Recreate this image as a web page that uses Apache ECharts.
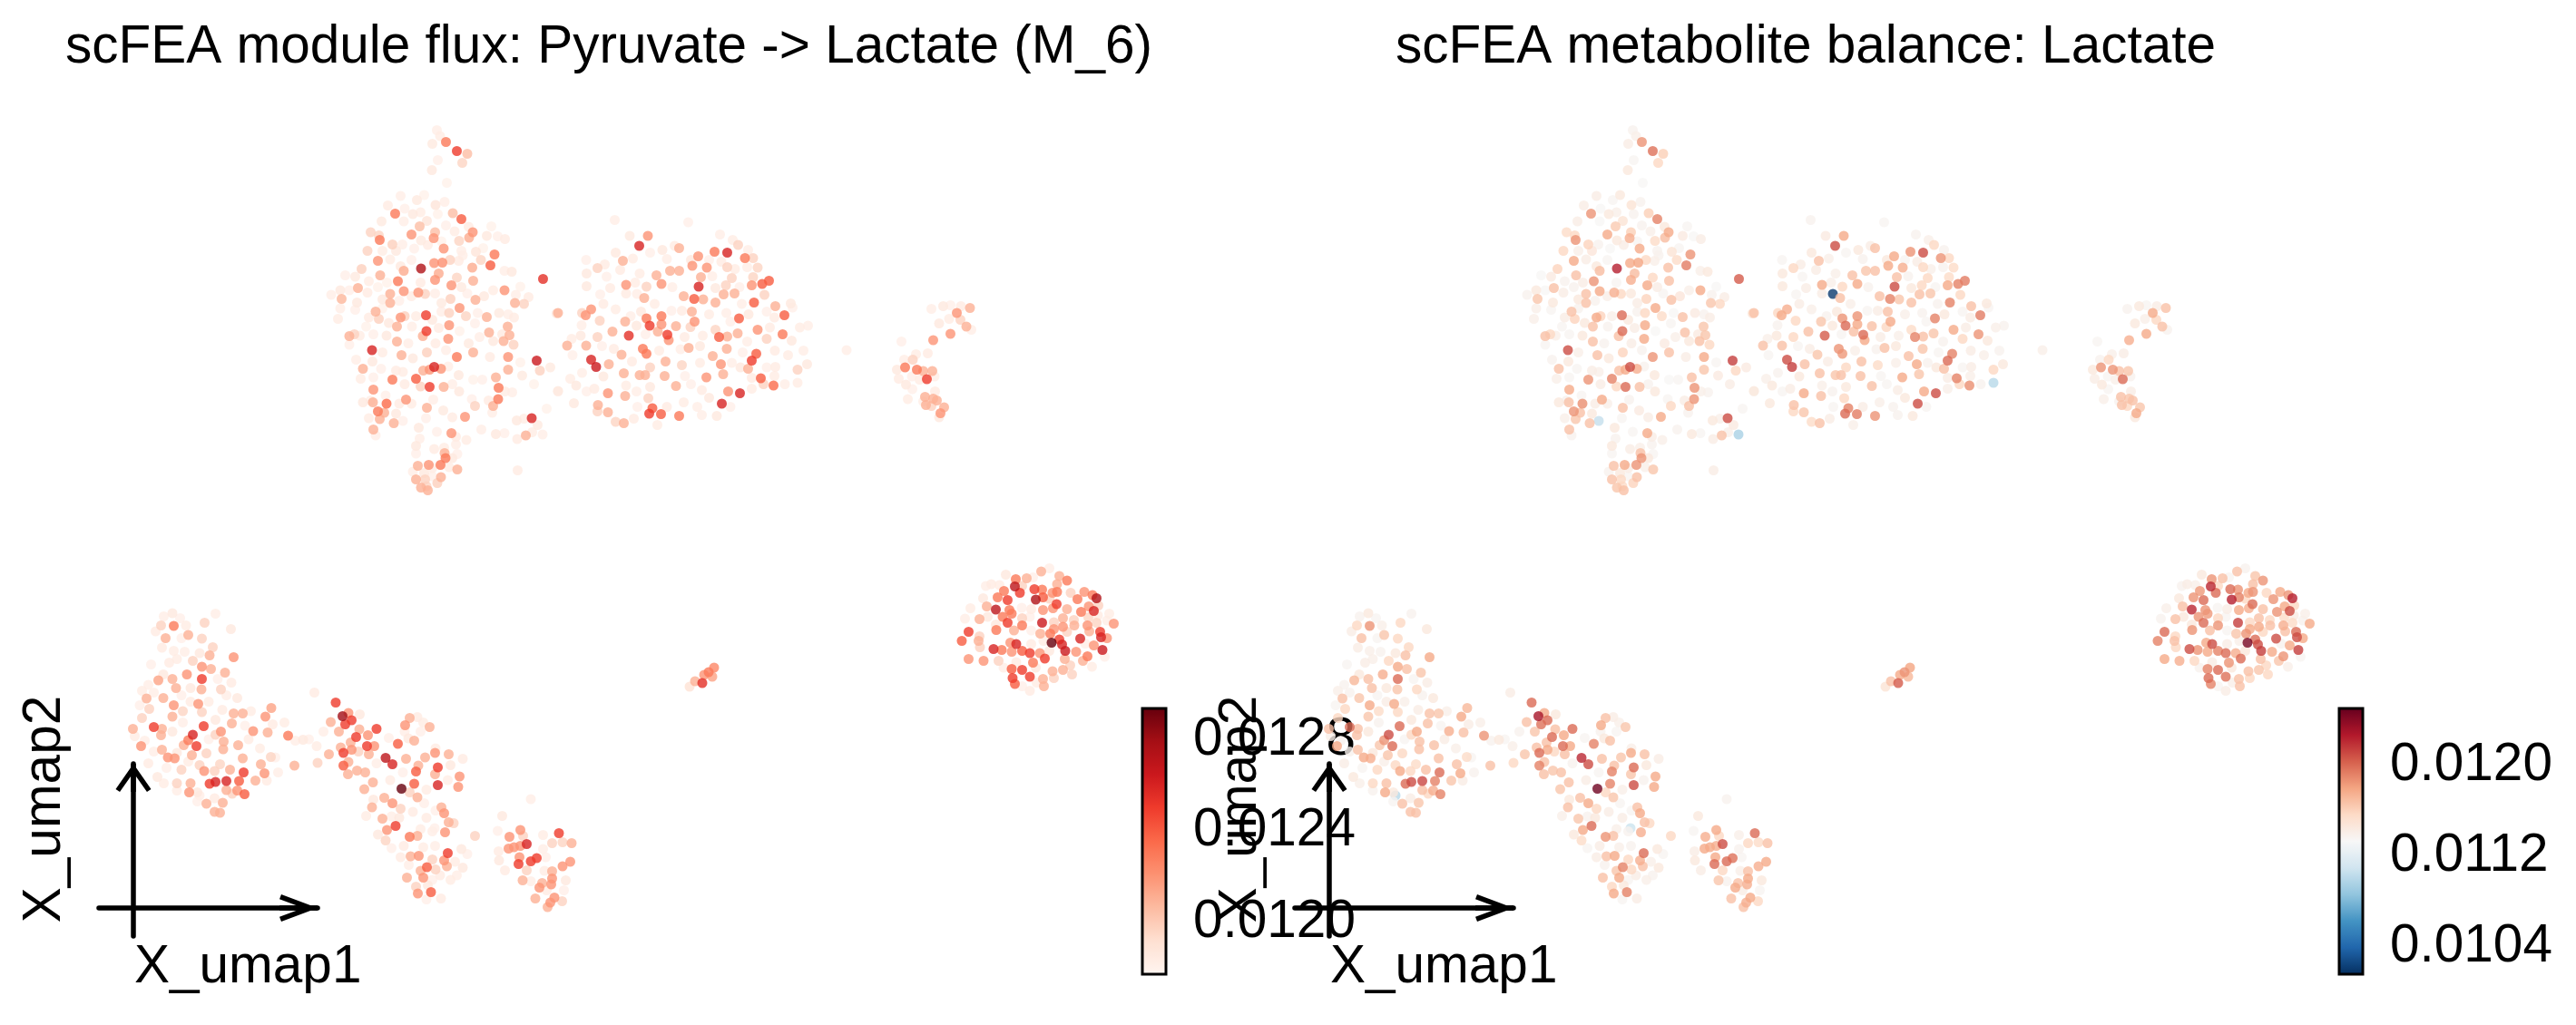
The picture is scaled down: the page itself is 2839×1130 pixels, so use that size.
<!DOCTYPE html>
<html lang="en">
<head>
<meta charset="UTF-8">
<title>scFEA lactate umap</title>
<script src="https://cdn.jsdelivr.net/npm/echarts@6/dist/echarts.min.js"></script>
<style>
  html, body { margin: 0; padding: 0; background: #fff; }
  #main { width: 2839px; height: 1130px; }
</style>
</head>
<body>
<div id="main"></div>
<script type="text/javascript">
// each cell: [X_umap1, X_umap2, module flux M_6, lactate balance]
var clusterA = [
[2.43,11.13,0.01182,0.01138],[2.33,10.83,0.01185,0.01142],[2.63,10.87,0.01230,0.01186],[2.87,10.67,0.01250,0.01198],
[3.10,10.61,0.01205,0.01162],[2.99,10.41,0.01196,0.01158],[2.45,10.47,0.01181,0.01136],[2.32,10.25,0.01186,0.01146],
[2.65,9.97,0.01180,0.01134],[2.50,11.00,0.01183,0.01140],[1.63,9.68,0.01182,0.01142],[1.99,9.59,0.01185,0.01136],
[2.15,9.70,0.01180,0.01146],[2.40,9.48,0.01188,0.01150],[2.60,9.55,0.01182,0.01138],[1.35,9.47,0.01184,0.01142],
[1.51,9.29,0.01230,0.01186],[1.72,9.40,0.01181,0.01134],[1.90,9.28,0.01186,0.01146],[2.07,9.32,0.01183,0.01140],
[2.45,9.28,0.01180,0.01138],[2.78,9.30,0.01205,0.01162],[2.97,9.17,0.01240,0.01192],[1.21,9.12,0.01185,0.01142],
[1.70,9.12,0.01182,0.01134],[2.21,9.13,0.01188,0.01150],[2.63,9.03,0.01181,0.01138],[2.05,9.01,0.01205,0.01164],
[3.13,9.00,0.01184,0.01146],[3.63,9.01,0.01180,0.01136],[0.97,8.88,0.01197,0.01156],[1.15,8.81,0.01196,0.01158],
[1.87,8.83,0.01220,0.01178],[2.39,8.88,0.01205,0.01162],[2.82,8.90,0.01183,0.01140],[3.22,8.88,0.01220,0.01178],
[3.53,8.80,0.01186,0.01144],[3.77,8.79,0.01181,0.01134],[3.93,8.73,0.01184,0.01142],[1.17,8.71,0.01230,0.01186],
[1.45,8.61,0.01198,0.01160],[1.67,8.61,0.01182,0.01138],[2.08,8.70,0.01185,0.01146],[2.36,8.75,0.01220,0.01176],
[2.53,8.68,0.01180,0.01136],[2.92,8.69,0.01196,0.01156],[3.14,8.76,0.01212,0.01170],[0.90,8.47,0.01197,0.01158],
[1.23,8.47,0.01183,0.01140],[1.53,8.47,0.01186,0.01148],[1.93,8.52,0.01181,0.01134],[2.23,8.60,0.01184,0.01142],
[2.58,8.52,0.01220,0.01178],[2.97,8.47,0.01182,0.01138],[3.29,8.45,0.01188,0.01150],[3.45,8.53,0.01180,0.01136],
[3.70,8.39,0.01230,0.01186],[1.13,8.25,0.01220,0.01178],[1.40,8.28,0.01183,0.01142],[1.63,8.13,0.01186,0.01146],
[1.70,8.03,0.01212,0.01170],[1.87,8.27,0.01181,0.01136],[2.08,8.08,0.01275,0.01225],[2.37,8.20,0.01220,0.01178],
[2.55,8.21,0.01222,0.01180],[2.72,8.27,0.01197,0.01158],[2.91,8.25,0.01184,0.01140],[3.00,8.37,0.01182,0.01138],
[3.40,8.27,0.01196,0.01156],[3.61,8.15,0.01240,0.01194],[3.21,8.10,0.01212,0.01168],[0.77,8.07,0.01198,0.01160],
[0.41,7.93,0.01181,0.01134],[0.63,7.90,0.01185,0.01144],[1.18,7.93,0.01210,0.01168],[1.57,7.80,0.01230,0.01186],
[2.47,7.97,0.01212,0.01170],[2.39,7.83,0.01220,0.01176],[2.87,7.88,0.01196,0.01158],[3.23,7.81,0.01210,0.01168],
[3.92,8.03,0.01182,0.01140],[4.08,8.01,0.01186,0.01146],[0.93,7.80,0.01183,0.01138],[1.33,7.77,0.01180,0.01142],
[2.07,7.77,0.01184,0.01136],[0.33,7.41,0.01208,0.01166],[0.10,7.50,0.01182,0.01138],[0.30,7.60,0.01186,0.01146],
[0.50,7.60,0.01181,0.01134],[0.69,7.65,0.01210,0.01168],[0.90,7.55,0.01184,0.01142],[1.13,7.67,0.01180,0.01138],
[1.40,7.52,0.01210,0.01168],[1.70,7.58,0.01220,0.01178],[1.87,7.47,0.01183,0.01140],[2.02,7.55,0.01220,0.01176],
[2.17,7.52,0.01197,0.01158],[2.39,7.53,0.01182,0.01146],[2.75,7.71,0.01220,0.01178],[2.73,7.41,0.01198,0.01160],
[2.97,7.67,0.01185,0.01142],[3.10,7.53,0.01181,0.01136],[3.28,7.39,0.01210,0.01168],[3.47,7.47,0.01186,0.01148],
[3.67,7.60,0.01183,0.01140],[3.92,7.60,0.01220,0.01178],[4.17,7.50,0.01182,0.01138],[4.27,7.68,0.01180,0.01134],
[4.45,7.45,0.01184,0.01142],[4.15,7.32,0.01210,0.01166],[4.35,7.30,0.01197,0.01158],[1.23,7.40,0.01186,0.01146],
[1.60,7.37,0.01181,0.01138],[2.53,7.32,0.01185,0.01142],[1.40,7.32,0.01210,0.01168],[0.30,7.20,0.01182,0.01140],
[0.67,7.33,0.01186,0.01146],[0.63,7.17,0.01181,0.01136],[1.08,7.13,0.01210,0.01168],[0.93,7.00,0.01184,0.01142],
[1.23,7.20,0.01180,0.01138],[1.63,7.00,0.01220,0.01178],[1.72,7.03,0.01198,0.01160],[1.97,7.03,0.01183,0.01140],
[2.19,7.05,0.01250,0.01200],[2.33,6.95,0.01186,0.01146],[2.53,7.13,0.01182,0.01138],[2.70,7.10,0.01197,0.01158],
[2.93,7.21,0.01220,0.01178],[3.07,7.03,0.01196,0.01156],[3.33,7.10,0.01181,0.01134],[3.53,7.01,0.01210,0.01168],
[3.80,7.10,0.01185,0.01144],[4.00,7.07,0.01182,0.01138],[4.13,7.00,0.01184,0.01142],[5.07,7.09,0.01188,0.01150],
[0.25,6.97,0.01183,0.01140],[0.87,6.80,0.01180,0.01136],[1.15,6.97,0.01198,0.01160],[1.37,6.88,0.01186,0.01146],
[1.55,6.80,0.01210,0.01168],[1.88,6.80,0.01182,0.01138],[2.70,6.83,0.01220,0.01178],[2.47,6.77,0.01184,0.01142],
[3.27,6.87,0.01181,0.01136],[3.58,6.67,0.01210,0.01168],[3.99,6.80,0.01210,0.01166],[3.87,6.63,0.01185,0.01144],
[0.50,6.59,0.01210,0.01168],[0.61,6.63,0.01197,0.01158],[0.73,6.60,0.01183,0.01140],[1.03,6.63,0.01181,0.01136],
[1.32,6.60,0.01186,0.01146],[1.55,6.47,0.01210,0.01168],[1.80,6.43,0.01182,0.01138],[2.12,6.59,0.01210,0.01168],
[2.20,6.70,0.01250,0.01200],[2.40,6.43,0.01184,0.01142],[2.68,6.53,0.01220,0.01178],[2.93,6.70,0.01180,0.01134],
[3.13,6.43,0.01185,0.01144],[3.37,6.57,0.01182,0.01140],[3.67,6.48,0.01186,0.01146],[3.90,6.48,0.01210,0.01168],
[4.03,6.61,0.01210,0.01166],[4.12,6.40,0.01197,0.01158],[0.50,6.40,0.01181,0.01136],[1.00,6.28,0.01260,0.01210],
[1.23,6.23,0.01183,0.01140],[1.65,6.17,0.01210,0.01168],[1.90,6.10,0.01186,0.01146],[2.21,6.23,0.01198,0.01160],
[2.63,6.28,0.01182,0.01138],[2.87,6.13,0.01230,0.01186],[3.23,6.23,0.01210,0.01168],[3.60,6.13,0.01184,0.01142],
[4.00,6.13,0.01220,0.01178],[4.27,6.01,0.01180,0.01136],[4.63,6.05,0.01265,0.01215],[4.70,5.83,0.01197,0.01158],
[4.93,5.90,0.01185,0.01144],[0.65,6.07,0.01182,0.01138],[0.80,5.87,0.01210,0.01168],[1.01,6.03,0.01186,0.01146],
[1.20,5.87,0.01181,0.01136],[1.53,5.83,0.01184,0.01142],[1.68,5.80,0.01183,0.01140],[1.97,5.65,0.01240,0.01192],
[2.13,5.83,0.01210,0.01168],[2.27,5.85,0.01220,0.01178],[2.37,5.91,0.01260,0.01210],[2.52,5.87,0.01220,0.01176],
[2.68,5.92,0.01182,0.01138],[2.91,5.73,0.01186,0.01146],[3.23,5.63,0.01180,0.01134],[3.73,5.68,0.01210,0.01168],
[4.00,5.85,0.01210,0.01166],[4.31,5.72,0.01185,0.01144],[0.75,5.65,0.01183,0.01140],[1.03,5.68,0.01181,0.01136],
[1.45,5.63,0.01230,0.01186],[1.72,5.53,0.01184,0.01142],[2.07,5.48,0.01197,0.01158],[2.27,5.47,0.01250,0.01200],
[2.58,5.47,0.01210,0.01168],[2.77,5.53,0.01182,0.01138],[2.92,5.37,0.01186,0.01146],[3.43,5.63,0.01181,0.01136],
[3.79,5.45,0.01230,0.01186],[3.93,5.37,0.01183,0.01140],[4.57,5.53,0.01180,0.01142],[5.10,5.38,0.01185,0.01146],
[1.03,5.41,0.01220,0.01178],[0.97,5.17,0.01182,0.01138],[0.80,5.13,0.01186,0.01146],[1.02,5.13,0.01210,0.01168],
[1.32,5.10,0.01235,0.01188],[1.30,5.28,0.01181,0.01136],[1.60,5.10,0.01184,0.01142],[1.75,5.19,0.01220,0.01178],
[1.87,5.10,0.01183,0.01140],[2.21,5.01,0.01210,0.01168],[2.35,5.19,0.01182,0.01138],[2.57,4.95,0.01185,0.01144],
[3.20,5.20,0.01181,0.01136],[3.27,5.05,0.01197,0.01158],[3.57,5.17,0.01184,0.01142],[3.67,5.05,0.01210,0.01168],
[3.78,5.20,0.01230,0.01186],[4.09,5.35,0.01182,0.01138],[1.13,4.93,0.01230,0.01186],[1.27,4.90,0.01210,0.01168],
[1.53,4.88,0.01186,0.01146],[0.93,4.78,0.01183,0.01140],[1.17,4.76,0.01210,0.01166],[1.48,4.67,0.01210,0.01168],
[2.19,4.78,0.01181,0.01136],[2.77,4.80,0.01184,0.01142],[3.05,4.81,0.01220,0.01178],[3.65,4.90,0.01182,0.01138],
[4.52,4.78,0.01260,0.01210],[4.19,4.73,0.01186,0.01146],[4.35,4.77,0.01183,0.01140],[4.85,4.99,0.01180,0.01136],
[4.65,4.63,0.01185,0.01144],[1.03,4.53,0.01210,0.01168],[1.08,4.40,0.01182,0.01138],[2.03,4.57,0.01186,0.01146],
[2.43,4.48,0.01181,0.01136],[2.75,4.45,0.01220,0.01178],[2.85,4.37,0.01184,0.01142],[3.08,4.30,0.01183,0.01140],
[3.41,4.53,0.01182,0.01138],[3.73,4.43,0.01186,0.01146],[3.92,4.45,0.01181,0.01136],[4.20,4.32,0.01184,0.01142],
[4.39,4.40,0.01210,0.01168],[4.53,4.47,0.01183,0.01140],[2.05,4.33,0.01182,0.01138],[1.97,4.17,0.01186,0.01146],
[1.97,4.00,0.01181,0.01136],[2.37,4.10,0.01184,0.01142],[2.59,4.13,0.01183,0.01140],[2.85,4.20,0.01182,0.01138],
[2.60,4.01,0.01210,0.01168],[2.62,3.90,0.01230,0.01186],[2.77,3.90,0.01186,0.01146],[2.88,3.99,0.01181,0.01136],
[2.01,3.73,0.01210,0.01168],[2.25,3.75,0.01220,0.01178],[2.51,3.75,0.01230,0.01186],[2.33,3.68,0.01184,0.01142],
[2.70,3.70,0.01183,0.01140],[2.88,3.65,0.01210,0.01166],[1.90,3.60,0.01182,0.01138],[2.15,3.57,0.01186,0.01146],
[1.97,3.43,0.01210,0.01168],[2.17,3.43,0.01197,0.01158],[2.33,3.50,0.01181,0.01136],[2.52,3.48,0.01210,0.01168],
[2.44,3.35,0.01198,0.01160],[2.08,3.25,0.01210,0.01166],[2.23,3.19,0.01210,0.01168],[2.20,3.28,0.01196,0.01156],
[4.21,3.63,0.01184,0.01142],[4.77,7.85,0.01255,0.01205],[4.76,4.42,0.01182,0.01095],[1.68,4.72,0.01181,0.01105]
];
var clusterB = [
[6.35,9.15,0.01182,0.01138],[7.97,9.10,0.01181,0.01136],[6.68,8.80,0.01185,0.01144],[7.08,8.80,0.01220,0.01178],
[6.89,8.58,0.01260,0.01210],[8.67,8.83,0.01182,0.01138],[7.77,8.53,0.01210,0.01168],[7.40,8.49,0.01186,0.01146],
[7.13,8.43,0.01181,0.01136],[7.67,8.58,0.01184,0.01142],[8.55,8.45,0.01230,0.01186],[8.83,8.43,0.01260,0.01210],
[9.07,8.60,0.01197,0.01158],[8.95,8.71,0.01183,0.01140],[8.19,8.35,0.01220,0.01178],[9.22,8.31,0.01230,0.01186],
[9.40,8.31,0.01197,0.01158],[9.29,8.49,0.01182,0.01138],[6.37,8.43,0.01186,0.01146],[5.72,8.27,0.01181,0.01136],
[5.97,8.09,0.01197,0.01158],[6.13,8.17,0.01184,0.01142],[6.53,8.25,0.01210,0.01168],[6.75,8.30,0.01183,0.01140],
[7.50,8.29,0.01182,0.01138],[8.03,8.27,0.01186,0.01146],[8.43,8.27,0.01181,0.01136],[8.70,8.23,0.01184,0.01142],
[8.06,8.14,0.01220,0.01178],[8.38,8.10,0.01220,0.01176],[8.83,8.11,0.01197,0.01158],[9.00,8.07,0.01183,0.01140],
[9.50,8.10,0.01196,0.01156],[9.27,8.11,0.01182,0.01138],[5.73,7.97,0.01186,0.01146],[6.17,7.90,0.01181,0.01136],
[6.47,8.05,0.01184,0.01142],[6.90,7.97,0.01183,0.01140],[7.27,7.93,0.01210,0.01168],[7.57,8.03,0.01210,0.01166],
[7.77,8.03,0.01210,0.01168],[8.25,7.89,0.01210,0.01168],[8.50,7.91,0.01182,0.01138],[8.93,7.87,0.01197,0.01158],
[9.40,7.89,0.01196,0.01156],[5.73,7.69,0.01186,0.01146],[6.03,7.51,0.01181,0.01136],[6.25,7.65,0.01184,0.01142],
[6.60,7.72,0.01220,0.01178],[6.80,7.77,0.01183,0.01140],[7.05,7.68,0.01197,0.01158],[7.38,7.74,0.01220,0.01178],
[7.62,7.67,0.01182,0.01138],[8.20,7.68,0.01260,0.01210],[8.57,7.65,0.01186,0.01146],[8.80,7.71,0.01197,0.01158],
[9.37,7.71,0.01220,0.01178],[9.60,7.74,0.01240,0.01192],[9.75,7.81,0.01240,0.01194],[9.10,7.67,0.01181,0.01136],
[6.60,7.53,0.01184,0.01142],[7.00,7.43,0.01210,0.01168],[7.23,7.30,0.01183,0.01140],[7.87,7.47,0.01210,0.01168],
[8.10,7.41,0.01240,0.01192],[8.30,7.40,0.01210,0.01166],[8.57,7.33,0.01210,0.01168],[8.75,7.51,0.01210,0.01168],
[8.99,7.53,0.01210,0.01166],[9.42,7.33,0.01240,0.01192],[9.65,7.50,0.01197,0.01158],[9.15,7.30,0.01182,0.01138],
[9.89,7.25,0.01210,0.01168],[10.23,7.31,0.01186,0.01146],[10.27,7.22,0.01181,0.01136],[5.10,7.10,0.01210,0.01168],
[5.63,7.10,0.01197,0.01158],[5.71,7.05,0.01220,0.01178],[5.83,7.18,0.01220,0.01176],[6.10,7.30,0.01184,0.01142],
[6.37,7.18,0.01183,0.01140],[6.70,7.03,0.01182,0.01138],[6.93,7.13,0.01186,0.01146],[7.05,6.98,0.01230,0.01186],
[7.38,7.03,0.01230,0.01186],[7.60,7.15,0.01181,0.01136],[7.83,7.15,0.01184,0.01142],[8.05,7.13,0.01210,0.01168],
[8.43,7.07,0.01183,0.01140],[8.81,7.10,0.01182,0.01138],[9.09,6.98,0.01240,0.01192],[9.30,7.07,0.01186,0.01146],
[9.70,7.13,0.01181,0.01136],[10.09,7.05,0.01240,0.01194],[9.87,7.00,0.01184,0.01142],[5.30,6.38,0.01210,0.01168],
[5.40,6.53,0.01183,0.01140],[5.62,6.83,0.01182,0.01138],[6.02,6.93,0.01197,0.01158],[6.30,6.69,0.01210,0.01168],
[6.58,6.91,0.01210,0.01166],[6.83,6.82,0.01186,0.01146],[7.12,6.82,0.01250,0.01200],[7.38,6.85,0.01220,0.01178],
[7.70,6.81,0.01210,0.01168],[8.02,6.79,0.01197,0.01158],[8.11,6.91,0.01220,0.01178],[8.57,6.73,0.01196,0.01156],
[8.90,6.91,0.01181,0.01136],[9.50,6.73,0.01220,0.01178],[9.77,6.78,0.01184,0.01142],[10.43,6.78,0.01183,0.01140],
[10.61,6.82,0.01182,0.01138],[5.60,6.60,0.01186,0.01146],[5.97,6.57,0.01197,0.01158],[6.66,6.60,0.01255,0.01205],
[7.03,6.63,0.01181,0.01136],[7.30,6.69,0.01210,0.01168],[7.51,6.62,0.01250,0.01200],[7.54,6.50,0.01220,0.01178],
[7.89,6.57,0.01184,0.01142],[8.29,6.60,0.01183,0.01140],[8.65,6.57,0.01240,0.01192],[8.83,6.58,0.01210,0.01168],
[9.06,6.65,0.01210,0.01166],[9.27,6.47,0.01182,0.01138],[10.05,6.63,0.01230,0.01186],[9.70,6.53,0.01197,0.01158],
[10.25,6.49,0.01186,0.01146],[5.72,6.38,0.01210,0.01168],[6.07,6.37,0.01181,0.01136],[6.33,6.31,0.01184,0.01142],
[6.97,6.31,0.01230,0.01186],[7.05,6.20,0.01230,0.01184],[7.33,6.27,0.01183,0.01140],[7.80,6.30,0.01182,0.01138],
[7.98,6.33,0.01210,0.01168],[8.23,6.37,0.01186,0.01146],[8.51,6.15,0.01210,0.01168],[8.82,6.31,0.01210,0.01166],
[9.17,6.23,0.01181,0.01136],[9.47,6.20,0.01240,0.01192],[9.37,6.05,0.01250,0.01200],[9.88,6.27,0.01184,0.01142],
[10.17,6.17,0.01183,0.01140],[10.51,6.27,0.01182,0.01138],[10.59,5.97,0.01186,0.01146],[5.42,6.17,0.01181,0.01136],
[5.83,6.07,0.01260,0.01210],[5.94,5.91,0.01265,0.01215],[6.22,5.97,0.01210,0.01168],[6.50,6.18,0.01210,0.01166],
[6.73,6.03,0.01184,0.01142],[7.13,5.90,0.01197,0.01158],[7.47,6.03,0.01210,0.01168],[7.83,5.95,0.01196,0.01156],
[8.23,6.00,0.01183,0.01140],[8.69,5.97,0.01220,0.01178],[8.93,6.00,0.01182,0.01138],[9.12,5.90,0.01186,0.01146],
[9.29,5.87,0.01210,0.01168],[9.70,5.90,0.01181,0.01136],[9.89,5.91,0.01184,0.01142],[10.38,5.85,0.01197,0.01158],
[5.37,5.65,0.01183,0.01140],[5.63,5.78,0.01182,0.01138],[6.10,5.70,0.01186,0.01146],[6.55,5.77,0.01210,0.01168],
[6.90,5.73,0.01210,0.01166],[7.02,5.73,0.01210,0.01168],[7.45,5.71,0.01210,0.01168],[7.90,5.71,0.01181,0.01136],
[8.37,5.68,0.01220,0.01178],[8.74,5.75,0.01210,0.01166],[9.37,5.67,0.01184,0.01142],[9.57,5.66,0.01240,0.01192],
[9.87,5.71,0.01183,0.01140],[5.10,5.37,0.01182,0.01138],[5.50,5.50,0.01186,0.01146],[5.73,5.37,0.01181,0.01136],
[5.90,5.43,0.01184,0.01142],[6.20,5.33,0.01220,0.01178],[6.60,5.50,0.01183,0.01140],[6.83,5.37,0.01182,0.01138],
[7.13,5.47,0.01186,0.01146],[7.70,5.49,0.01210,0.01168],[8.03,5.53,0.01181,0.01136],[8.27,5.40,0.01184,0.01142],
[8.85,5.37,0.01220,0.01178],[9.11,5.33,0.01260,0.01210],[9.37,5.43,0.01183,0.01140],[9.63,5.53,0.01197,0.01158],
[9.85,5.50,0.01235,0.01188],[10.10,5.53,0.01182,0.01138],[5.45,5.11,0.01186,0.01146],[5.98,5.07,0.01210,0.01168],
[6.20,4.91,0.01210,0.01166],[6.58,5.27,0.01210,0.01168],[6.85,5.03,0.01181,0.01136],[7.09,5.22,0.01197,0.01158],
[7.18,5.00,0.01240,0.01192],[7.11,4.88,0.01250,0.01200],[7.37,4.87,0.01240,0.01194],[7.50,5.03,0.01184,0.01142],
[7.87,5.13,0.01183,0.01140],[8.17,5.03,0.01182,0.01138],[8.43,5.23,0.01186,0.01146],[8.71,5.10,0.01260,0.01210],
[8.90,5.03,0.01181,0.01136],[7.77,4.83,0.01230,0.01186],[6.55,4.67,0.01210,0.01168],[6.77,4.77,0.01184,0.01142],
[7.29,4.63,0.01183,0.01140],[8.27,4.85,0.01182,0.01138],[8.60,4.83,0.01186,0.01146],[5.97,4.93,0.01197,0.01158],
[6.37,4.70,0.01196,0.01156],[6.84,7.52,0.01182,0.01020],[10.38,5.56,0.01183,0.01100],[11.46,6.28,0.01182,0.01140]
];
var clusterC = [
[13.33,7.19,0.01182,0.01138],[13.59,7.25,0.01186,0.01146],[13.75,7.27,0.01181,0.01136],[13.98,7.25,0.01184,0.01142],
[14.18,7.21,0.01210,0.01168],[13.89,7.10,0.01220,0.01178],[13.72,6.97,0.01183,0.01140],[13.97,6.95,0.01197,0.01158],
[14.10,6.80,0.01210,0.01168],[14.21,6.73,0.01182,0.01138],[13.50,6.87,0.01186,0.01146],[13.75,6.64,0.01220,0.01178],
[13.37,6.50,0.01220,0.01176],[12.67,6.47,0.01181,0.01136],[13.25,6.21,0.01184,0.01142],[12.99,6.19,0.01183,0.01140],
[12.92,6.07,0.01197,0.01158],[12.73,6.07,0.01182,0.01138],[12.75,5.90,0.01230,0.01186],[12.57,5.85,0.01186,0.01146],
[13.01,5.85,0.01230,0.01186],[13.15,5.82,0.01210,0.01168],[13.35,5.82,0.01210,0.01166],[13.23,5.64,0.01250,0.01200],
[12.90,5.70,0.01181,0.01136],[12.61,5.65,0.01184,0.01142],[13.07,5.63,0.01183,0.01140],[13.40,5.70,0.01182,0.01138],
[12.77,5.52,0.01186,0.01146],[12.91,5.42,0.01181,0.01136],[13.41,5.37,0.01184,0.01142],[13.19,5.25,0.01210,0.01168],
[13.37,5.21,0.01210,0.01166],[13.45,5.17,0.01210,0.01168],[12.81,5.20,0.01183,0.01140],[13.15,5.15,0.01182,0.01138],
[13.21,5.07,0.01210,0.01168],[13.33,5.05,0.01197,0.01158],[13.61,5.02,0.01210,0.01166],[13.53,4.89,0.01220,0.01178],
[13.50,4.80,0.01186,0.01146]
];
var clusterH = [
[15.93,1.47,0.01182,0.01138],[15.75,1.40,0.01210,0.01168],[14.97,1.33,0.01186,0.01146],[15.43,1.25,0.01210,0.01168],
[15.57,1.27,0.01181,0.01136],[16.15,1.30,0.01210,0.01166],[16.32,1.20,0.01230,0.01186],[15.19,1.23,0.01230,0.01186],
[15.17,1.07,0.01270,0.01222],[14.65,1.12,0.01184,0.01142],[14.83,1.10,0.01183,0.01140],[14.53,1.08,0.01182,0.01138],
[15.33,1.08,0.01197,0.01158],[16.10,1.12,0.01210,0.01168],[15.60,1.01,0.01250,0.01200],[15.77,1.00,0.01230,0.01186],
[14.93,0.97,0.01230,0.01184],[15.28,0.93,0.01250,0.01200],[16.00,0.93,0.01220,0.01178],[16.10,0.95,0.01230,0.01186],
[16.40,0.93,0.01197,0.01158],[16.70,0.95,0.01220,0.01178],[16.97,0.81,0.01275,0.01225],[16.88,0.88,0.01230,0.01186],
[14.47,0.81,0.01186,0.01146],[14.79,0.83,0.01230,0.01186],[15.01,0.77,0.01250,0.01200],[15.63,0.78,0.01275,0.01225],
[15.79,0.83,0.01240,0.01192],[15.93,0.80,0.01197,0.01158],[16.09,0.68,0.01250,0.01200],[16.55,0.79,0.01230,0.01186],
[16.80,0.63,0.01220,0.01178],[17.01,0.65,0.01197,0.01158],[14.55,0.63,0.01210,0.01168],[14.75,0.56,0.01270,0.01222],
[15.05,0.55,0.01230,0.01186],[15.32,0.60,0.01181,0.01136],[15.53,0.57,0.01184,0.01142],[15.79,0.55,0.01220,0.01178],
[16.01,0.59,0.01220,0.01176],[16.32,0.57,0.01210,0.01168],[16.63,0.51,0.01230,0.01186],[16.91,0.53,0.01260,0.01210],
[14.19,0.59,0.01183,0.01140],[14.07,0.36,0.01182,0.01138],[14.39,0.35,0.01210,0.01168],[14.57,0.40,0.01186,0.01146],
[14.90,0.40,0.01230,0.01186],[15.10,0.47,0.01230,0.01184],[15.33,0.37,0.01197,0.01158],[15.50,0.40,0.01181,0.01136],
[16.23,0.37,0.01210,0.01168],[16.47,0.33,0.01197,0.01158],[16.79,0.39,0.01196,0.01156],[17.00,0.43,0.01184,0.01142],
[17.25,0.47,0.01183,0.01140],[17.20,0.32,0.01182,0.01138],[17.35,0.25,0.01220,0.01178],[14.75,0.23,0.01186,0.01146],
[15.01,0.27,0.01250,0.01200],[15.33,0.21,0.01230,0.01186],[15.77,0.27,0.01265,0.01215],[16.03,0.28,0.01197,0.01158],
[16.23,0.18,0.01220,0.01178],[16.48,0.21,0.01210,0.01168],[16.77,0.21,0.01220,0.01176],[16.97,0.27,0.01196,0.01156],
[14.15,0.07,0.01250,0.01200],[14.00,-0.13,0.01240,0.01192],[14.39,-0.03,0.01197,0.01158],[14.76,0.11,0.01230,0.01186],
[15.15,0.10,0.01210,0.01168],[15.53,0.10,0.01181,0.01136],[15.73,0.03,0.01210,0.01166],[15.95,0.03,0.01230,0.01186],
[16.03,0.13,0.01220,0.01178],[16.32,0.07,0.01197,0.01158],[16.81,0.08,0.01210,0.01168],[17.05,0.07,0.01250,0.01200],
[17.20,-0.07,0.01220,0.01178],[17.07,-0.05,0.01260,0.01210],[14.37,-0.13,0.01210,0.01168],[15.07,-0.17,0.01220,0.01178],
[15.20,-0.20,0.01260,0.01210],[15.53,-0.20,0.01184,0.01142],[15.80,-0.13,0.01183,0.01140],[15.98,-0.17,0.01294,0.01245],
[16.15,-0.10,0.01250,0.01200],[16.21,-0.21,0.01260,0.01210],[16.28,-0.35,0.01265,0.01215],[16.61,-0.08,0.01260,0.01210],
[16.72,-0.19,0.01182,0.01138],[16.91,-0.23,0.01220,0.01178],[17.10,-0.33,0.01265,0.01215],[14.40,-0.27,0.01197,0.01158],
[14.70,-0.31,0.01260,0.01210],[14.88,-0.33,0.01230,0.01186],[15.10,-0.37,0.01220,0.01178],[15.33,-0.35,0.01240,0.01192],
[15.50,-0.40,0.01250,0.01200],[15.72,-0.40,0.01220,0.01176],[15.93,-0.35,0.01186,0.01146],[16.52,-0.37,0.01220,0.01178],
[16.77,-0.47,0.01230,0.01186],[17.15,-0.48,0.01181,0.01136],[14.15,-0.53,0.01220,0.01178],[14.48,-0.57,0.01220,0.01176],
[14.81,-0.57,0.01197,0.01158],[15.20,-0.60,0.01184,0.01142],[15.57,-0.61,0.01230,0.01186],[15.83,-0.52,0.01250,0.01200],
[16.27,-0.53,0.01210,0.01168],[16.39,-0.67,0.01197,0.01158],[16.67,-0.57,0.01210,0.01166],[16.87,-0.70,0.01183,0.01140],
[14.92,-0.72,0.01182,0.01138],[15.10,-0.75,0.01240,0.01192],[15.33,-0.77,0.01250,0.01200],[15.63,-0.72,0.01186,0.01146],
[16.00,-0.80,0.01210,0.01168],[16.23,-0.77,0.01210,0.01166],[16.43,-0.87,0.01197,0.01158],[15.12,-0.95,0.01250,0.01200],
[15.50,-0.92,0.01250,0.01198],[15.79,-0.97,0.01210,0.01168],[16.03,-0.95,0.01197,0.01158],[15.17,-1.08,0.01240,0.01192],
[15.33,-1.13,0.01181,0.01136],[15.50,-1.23,0.01184,0.01142],[15.81,-1.13,0.01210,0.01168],[15.65,-1.05,0.01183,0.01140]
];
var clusterD = [
[-3.59,0.41,0.01182,0.01138],[-3.40,0.48,0.01186,0.01146],[-3.23,0.37,0.01181,0.01136],[-3.65,0.21,0.01197,0.01158],
[-3.37,0.20,0.01230,0.01186],[-3.77,0.08,0.01184,0.01142],[-3.10,0.21,0.01183,0.01140],[-2.69,0.27,0.01197,0.01158],
[-2.45,0.47,0.01182,0.01138],[-2.11,0.13,0.01186,0.01146],[-3.55,-0.07,0.01210,0.01168],[-3.05,0.00,0.01210,0.01166],
[-3.20,-0.07,0.01181,0.01136],[-2.75,-0.08,0.01197,0.01158],[-3.63,-0.28,0.01184,0.01142],[-3.37,-0.35,0.01183,0.01140],
[-3.13,-0.37,0.01182,0.01138],[-2.80,-0.40,0.01186,0.01146],[-2.51,-0.27,0.01197,0.01158],[-2.58,-0.45,0.01210,0.01168],
[-2.05,-0.49,0.01220,0.01178],[-3.87,-0.65,0.01181,0.01136],[-3.47,-0.61,0.01184,0.01142],[-3.30,-0.53,0.01183,0.01140],
[-2.95,-0.57,0.01197,0.01158],[-2.75,-0.70,0.01220,0.01178],[-2.55,-0.75,0.01210,0.01168],[-2.24,-0.83,0.01210,0.01166],
[-3.08,-0.87,0.01220,0.01176],[-2.75,-0.97,0.01250,0.01200],[-3.71,-1.00,0.01215,0.01172],[-3.40,-0.97,0.01210,0.01168],
[-3.93,-1.10,0.01182,0.01138],[-3.60,-0.87,0.01186,0.01146],[-2.40,-0.97,0.01181,0.01136],[-2.10,-1.05,0.01184,0.01142],
[-4.07,-1.23,0.01183,0.01140],[-3.81,-1.27,0.01182,0.01138],[-3.32,-1.17,0.01210,0.01168],[-3.00,-1.17,0.01186,0.01146],
[-2.76,-1.20,0.01210,0.01166],[-2.33,-1.20,0.01197,0.01158],[-3.97,-1.40,0.01210,0.01168],[-3.60,-1.39,0.01210,0.01166],
[-3.20,-1.33,0.01181,0.01136],[-3.00,-1.47,0.01184,0.01142],[-2.83,-1.52,0.01220,0.01178],[-2.60,-1.47,0.01183,0.01140],
[-2.21,-1.33,0.01182,0.01138],[-1.97,-1.39,0.01186,0.01146],[-4.12,-1.55,0.01181,0.01136],[-3.91,-1.63,0.01197,0.01158],
[-3.37,-1.55,0.01220,0.01178],[-3.17,-1.68,0.01196,0.01156],[-2.75,-1.70,0.01197,0.01158],[-2.30,-1.65,0.01184,0.01142],
[-2.05,-1.73,0.01210,0.01168],[-1.85,-1.73,0.01210,0.01166],[-1.35,-1.80,0.01220,0.01178],[-1.22,-1.61,0.01215,0.01172],
[-1.67,-1.68,0.01183,0.01140],[-4.27,-2.07,0.01210,0.01168],[-4.07,-1.83,0.01197,0.01158],[-3.81,-2.03,0.01250,0.01200],
[-3.63,-2.07,0.01210,0.01168],[-3.40,-1.80,0.01210,0.01166],[-3.17,-1.93,0.01182,0.01138],[-2.71,-2.01,0.01250,0.01200],
[-2.45,-1.87,0.01186,0.01146],[-2.33,-2.13,0.01220,0.01178],[-2.09,-1.95,0.01210,0.01168],[-1.80,-2.00,0.01181,0.01136],
[-1.62,-2.12,0.01220,0.01176],[-1.30,-2.15,0.01210,0.01168],[-1.19,-1.97,0.01184,0.01142],[-4.23,-2.23,0.01183,0.01140],
[-4.01,-2.33,0.01182,0.01138],[-3.65,-2.21,0.01210,0.01168],[-3.40,-2.13,0.01186,0.01146],[-2.95,-2.20,0.01260,0.01210],
[-3.05,-2.32,0.01230,0.01186],[-2.87,-2.45,0.01250,0.01200],[-3.15,-2.43,0.01210,0.01166],[-2.60,-2.30,0.01181,0.01136],
[-2.45,-2.20,0.01197,0.01158],[-2.27,-2.35,0.01210,0.01168],[-1.95,-2.43,0.01210,0.01168],[-1.72,-2.30,0.01184,0.01142],
[-1.47,-2.50,0.01183,0.01140],[-4.09,-2.45,0.01220,0.01178],[-3.81,-2.57,0.01182,0.01138],[-3.63,-2.53,0.01210,0.01168],
[-3.30,-2.60,0.01186,0.01146],[-2.97,-2.65,0.01210,0.01166],[-2.65,-2.61,0.01197,0.01158],[-2.28,-2.52,0.01210,0.01168],
[-1.85,-2.72,0.01210,0.01168],[-1.23,-2.69,0.01196,0.01156],[-1.13,-2.70,0.01181,0.01136],[-3.93,-2.83,0.01184,0.01142],
[-3.50,-2.70,0.01220,0.01178],[-3.35,-2.72,0.01220,0.01176],[-3.05,-2.79,0.01183,0.01140],[-2.80,-2.87,0.01197,0.01158],
[-2.35,-2.85,0.01196,0.01156],[-1.45,-2.85,0.01210,0.01168],[-1.07,-3.03,0.01182,0.01138],[-3.73,-3.13,0.01186,0.01146],
[-3.53,-2.93,0.01181,0.01136],[-3.20,-2.97,0.01197,0.01158],[-2.70,-3.00,0.01220,0.01178],[-2.47,-3.00,0.01197,0.01158],
[-2.13,-2.97,0.01210,0.01168],[-1.83,-3.03,0.01250,0.01200],[-1.57,-3.21,0.01210,0.01166],[-1.37,-3.05,0.01220,0.01178],
[-1.32,-3.21,0.01184,0.01142],[-3.59,-3.27,0.01183,0.01140],[-3.30,-3.27,0.01197,0.01158],[-3.00,-3.27,0.01210,0.01168],
[-2.58,-3.28,0.01250,0.01200],[-2.45,-3.24,0.01260,0.01210],[-2.21,-3.22,0.01260,0.01212],[-1.93,-3.22,0.01240,0.01192],
[-3.30,-3.43,0.01182,0.01138],[-3.03,-3.47,0.01220,0.01178],[-2.85,-3.47,0.01186,0.01146],[-2.21,-3.42,0.01210,0.01168],
[-1.97,-3.43,0.01220,0.01176],[-1.81,-3.51,0.01240,0.01192],[-2.08,-3.50,0.01197,0.01158],[-2.85,-3.67,0.01181,0.01136],
[-2.65,-3.72,0.01210,0.01168],[-2.47,-3.60,0.01184,0.01142],[-2.29,-3.70,0.01210,0.01166],[-2.47,-3.90,0.01210,0.01168],
[-2.35,-3.92,0.01210,0.01168],[-0.93,-1.93,0.01183,0.01140],[-0.85,-2.22,0.01230,0.01186],[-0.69,-2.33,0.01182,0.01138],
[-0.52,-2.31,0.01186,0.01146],[-0.39,-2.30,0.01181,0.01136],[-0.71,-2.88,0.01210,0.01168],[-0.20,-2.82,0.01197,0.01158],
[-0.27,-1.27,0.01184,0.01142],[-0.22,-2.45,0.01183,0.01140],[-2.80,-3.54,0.01182,0.01100]
];
var clusterE = [
[0.20,-1.49,0.01250,0.01200],[0.35,-1.79,0.01280,0.01230],[0.48,-1.72,0.01220,0.01178],[0.55,-1.88,0.01250,0.01200],
[0.41,-1.97,0.01250,0.01198],[0.09,-1.92,0.01210,0.01168],[-0.07,-2.13,0.01182,0.01138],[0.27,-2.13,0.01210,0.01166],
[0.73,-1.75,0.01186,0.01146],[0.72,-2.08,0.01210,0.01168],[1.10,-2.07,0.01250,0.01200],[0.91,-2.21,0.01220,0.01178],
[0.65,-2.25,0.01250,0.01200],[0.53,-2.37,0.01210,0.01168],[1.37,-2.27,0.01181,0.01136],[1.73,-1.99,0.01220,0.01178],
[1.83,-1.83,0.01210,0.01168],[2.00,-1.81,0.01184,0.01142],[2.13,-1.93,0.01183,0.01140],[2.27,-2.03,0.01210,0.01166],
[1.72,-2.13,0.01182,0.01138],[1.93,-2.33,0.01210,0.01168],[1.80,-2.28,0.01186,0.01146],[2.07,-2.13,0.01181,0.01136],
[0.89,-2.45,0.01250,0.01200],[1.05,-2.45,0.01220,0.01178],[1.57,-2.40,0.01240,0.01192],[0.31,-2.48,0.01210,0.01168],
[0.05,-2.63,0.01210,0.01166],[0.37,-2.60,0.01250,0.01200],[0.55,-2.53,0.01220,0.01178],[0.70,-2.57,0.01197,0.01158],
[0.93,-2.63,0.01210,0.01168],[1.30,-2.71,0.01270,0.01222],[1.45,-2.85,0.01260,0.01210],[1.75,-2.73,0.01210,0.01168],
[2.17,-2.70,0.01210,0.01166],[2.39,-2.60,0.01220,0.01178],[2.69,-2.63,0.01210,0.01168],[3.00,-2.73,0.01184,0.01142],
[2.40,-2.50,0.01183,0.01140],[0.37,-2.88,0.01240,0.01192],[0.48,-2.80,0.01210,0.01168],[0.67,-2.99,0.01210,0.01166],
[0.85,-3.03,0.01210,0.01168],[1.10,-2.83,0.01182,0.01138],[2.02,-2.88,0.01210,0.01168],[2.45,-2.92,0.01250,0.01200],
[2.39,-3.07,0.01210,0.01166],[2.73,-2.87,0.01186,0.01146],[2.93,-3.12,0.01220,0.01178],[1.97,-3.01,0.01240,0.01192],
[1.68,-3.03,0.01181,0.01136],[0.47,-3.07,0.01210,0.01168],[1.02,-3.25,0.01210,0.01168],[0.83,-3.40,0.01210,0.01166],
[1.40,-3.20,0.01184,0.01142],[1.65,-3.39,0.01294,0.01248],[1.93,-3.28,0.01240,0.01192],[2.45,-3.31,0.01260,0.01210],
[2.90,-3.35,0.01220,0.01178],[2.20,-3.41,0.01183,0.01140],[2.67,-3.20,0.01182,0.01138],[1.27,-3.59,0.01210,0.01168],
[2.00,-3.58,0.01210,0.01166],[1.83,-3.47,0.01197,0.01158],[1.03,-3.63,0.01186,0.01146],[1.45,-3.71,0.01220,0.01178],
[1.63,-3.83,0.01197,0.01158],[1.00,-3.80,0.01210,0.01168],[2.15,-3.71,0.01181,0.01136],[1.90,-3.90,0.01184,0.01142],
[2.53,-3.80,0.01210,0.01168],[2.59,-3.93,0.01220,0.01178],[0.87,-3.99,0.01183,0.01140],[1.23,-4.05,0.01210,0.01166],
[1.43,-4.00,0.01182,0.01138],[1.60,-4.03,0.01186,0.01146],[2.40,-3.87,0.01181,0.01136],[2.20,-4.03,0.01184,0.01142],
[2.69,-4.13,0.01210,0.01168],[2.80,-4.15,0.01197,0.01158],[1.33,-4.30,0.01220,0.01178],[1.52,-4.21,0.01250,0.01200],
[2.07,-4.28,0.01183,0.01140],[2.33,-4.33,0.01182,0.01138],[2.61,-4.35,0.01220,0.01176],[1.13,-4.40,0.01186,0.01146],
[2.00,-4.43,0.01210,0.01168],[1.83,-4.45,0.01230,0.01186],[3.27,-4.43,0.01197,0.01158],[1.30,-4.53,0.01196,0.01156],
[1.43,-4.70,0.01181,0.01136],[1.70,-4.65,0.01184,0.01142],[2.13,-4.68,0.01183,0.01140],[2.39,-4.65,0.01182,0.01138],
[2.67,-4.81,0.01250,0.01200],[2.97,-4.72,0.01186,0.01146],[3.10,-4.83,0.01181,0.01136],[1.63,-4.90,0.01184,0.01142],
[1.85,-4.88,0.01210,0.01168],[2.03,-4.87,0.01220,0.01178],[2.33,-4.95,0.01197,0.01158],[2.59,-4.97,0.01220,0.01176],
[2.83,-5.00,0.01183,0.01140],[1.81,-5.07,0.01182,0.01138],[2.21,-5.12,0.01240,0.01192],[2.40,-5.17,0.01197,0.01158],
[2.65,-5.10,0.01210,0.01168],[3.00,-5.13,0.01186,0.01146],[2.07,-5.20,0.01210,0.01166],[1.77,-5.35,0.01210,0.01168],
[2.13,-5.35,0.01220,0.01178],[2.33,-5.40,0.01181,0.01136],[2.50,-5.30,0.01184,0.01142],[2.73,-5.40,0.01183,0.01140],
[2.87,-5.30,0.01182,0.01138],[1.97,-5.55,0.01197,0.01158],[2.23,-5.52,0.01186,0.01146],[2.01,-5.70,0.01220,0.01178],
[2.30,-5.67,0.01240,0.01192],[2.20,-5.83,0.01181,0.01136],[2.52,-5.81,0.01184,0.01142],[2.38,-4.26,0.01181,0.01108]
];
var clusterF = [
[4.50,-3.62,0.01182,0.01138],[3.87,-3.99,0.01186,0.01146],[3.77,-4.32,0.01181,0.01136],[4.27,-4.30,0.01220,0.01178],
[4.03,-4.45,0.01220,0.01176],[4.33,-4.43,0.01197,0.01158],[4.41,-4.61,0.01260,0.01210],[4.01,-4.71,0.01220,0.01178],
[4.13,-4.68,0.01220,0.01178],[4.27,-4.65,0.01220,0.01176],[3.79,-4.77,0.01184,0.01142],[4.77,-4.41,0.01183,0.01140],
[5.12,-4.37,0.01250,0.01200],[4.97,-4.59,0.01197,0.01158],[5.20,-4.57,0.01196,0.01156],[5.40,-4.59,0.01210,0.01168],
[4.77,-4.72,0.01182,0.01138],[4.25,-4.90,0.01220,0.01178],[4.50,-4.99,0.01250,0.01200],[4.63,-4.92,0.01250,0.01198],
[4.23,-5.05,0.01250,0.01200],[3.80,-4.97,0.01186,0.01146],[4.83,-4.90,0.01181,0.01136],[5.37,-5.00,0.01220,0.01178],
[5.20,-5.10,0.01220,0.01176],[3.93,-5.19,0.01184,0.01142],[4.41,-5.19,0.01197,0.01158],[4.80,-5.20,0.01183,0.01140],
[4.97,-5.21,0.01210,0.01168],[4.32,-5.41,0.01210,0.01166],[4.50,-5.43,0.01182,0.01138],[4.75,-5.47,0.01210,0.01168],
[4.97,-5.37,0.01220,0.01178],[5.27,-5.41,0.01186,0.01146],[4.69,-5.57,0.01220,0.01178],[4.95,-5.50,0.01220,0.01176],
[5.23,-5.63,0.01181,0.01136],[4.85,-5.63,0.01184,0.01142],[4.60,-5.81,0.01210,0.01168],[5.02,-5.79,0.01220,0.01178],
[4.93,-5.90,0.01220,0.01176],[5.19,-5.87,0.01197,0.01158],[4.87,-6.00,0.01210,0.01168]
];
var clusterG = [
[8.00,-1.14,0.01190,0.01150],[8.12,-1.02,0.01210,0.01168],[8.32,-0.88,0.01220,0.01178],[8.28,-1.06,0.01255,0.01205],
[8.42,-0.82,0.01230,0.01186],[8.54,-0.72,0.01225,0.01180],[8.50,-0.92,0.01215,0.01172]
];

var titles = ['scFEA module flux: Pyruvate -> Lactate (M_6)', 'scFEA metabolite balance: Lactate'];
var fluxRange = [0.01177, 0.01294];
var balanceRange = [0.01016, 0.012504];
var fluxTicks = [0.0120, 0.0124, 0.0128];
var balanceTicks = [0.0104, 0.0112, 0.0120];
var umap1Range = [-5.0, 17.44];
var umap2Range = [-6.64, 11.6];

var reds = ['#fff5f0','#fee0d2','#fcbba1','#fc9272','#fb6a4a','#ef3b2c','#cb181d','#a50f15','#67000d'];
var rdbuR = ['#053061','#2166ac','#4393c3','#92c5de','#d1e5f0','#f7f7f7','#fddbc7','#f4a582','#d6604d','#b2182b','#67001f'];

var cells = [].concat(clusterA, clusterB, clusterC, clusterH, clusterD, clusterE, clusterF, clusterG);

// highest values drawn last, like scanpy
function byDim(d) {
  return cells.slice().sort(function (a, b) { return a[d] - b[d]; });
}

var FONT = '"Liberation Sans", Arial, sans-serif';
var FS = 58.5;
var SHIFT = 1318;

// open arrow heads (pointing up, rotated by the axis)
var headH = 'path://M15 0 L30 40 L24.85 42 L15 15.7 L5.15 42 L0 40 Z M12.25 0 L17.75 0 L17.75 42 L12.25 42 Z';
var headV = 'path://M19.5 0 L39 27.9 L34.46 31 L19.5 9.7 L4.54 31 L0 27.9 Z M16.75 0 L22.25 0 L22.25 31 L16.75 31 Z';

var grids = [], xAxes = [], yAxes = [], graphics = [], visualMaps = [];

[0, 1].forEach(function (p) {
  var dx = p * SHIFT;
  // scatter panel
  grids.push({ left: 110 + dx, top: 120, width: 1122, height: 912 });
  // arrow frame
  grids.push({ left: 109 + dx, top: 842, width: 241, height: 190 });
  // colorbar
  grids.push({ left: 1259 + dx + p, top: 781, width: 26, height: 293, show: true,
    borderColor: '#000', borderWidth: 3, backgroundColor: 'transparent', z: 10 });
});

[0, 1].forEach(function (p) {
  var g = p * 3;
  xAxes.push({ gridIndex: g, type: 'value', min: umap1Range[0], max: umap1Range[1], show: false });
  yAxes.push({ gridIndex: g, type: 'value', min: umap2Range[0], max: umap2Range[1], show: false });

  xAxes.push({ gridIndex: g + 1, type: 'value', min: -38, max: 203,
    axisLine: { show: true, onZero: true, symbol: ['none', headH], symbolSize: [30, 42], symbolOffset: [0, -21],
      lineStyle: { color: '#000', width: 5.5 } },
    axisTick: { show: false }, axisLabel: { show: false }, splitLine: { show: false } });
  yAxes.push({ gridIndex: g + 1, type: 'value', min: -31, max: 159,
    axisLine: { show: true, onZero: true, symbol: ['none', headV], symbolSize: [39, 31], symbolOffset: [0, -15.5],
      lineStyle: { color: '#000', width: 5.5 } },
    axisTick: { show: false }, axisLabel: { show: false }, splitLine: { show: false } });

  var rng = p === 0 ? fluxRange : balanceRange;
  var ticks = p === 0 ? fluxTicks : balanceTicks;
  xAxes.push({ gridIndex: g + 2, type: 'value', show: false });
  yAxes.push({ gridIndex: g + 2, type: 'value', position: 'right', min: rng[0], max: rng[1],
    axisLine: { show: false },
    axisTick: { show: true, length: 13, customValues: ticks, lineStyle: { color: '#000', width: 3.5 } },
    axisLabel: { show: true, customValues: ticks, margin: 30, fontSize: FS, fontFamily: FONT, color: '#000',
      formatter: function (v) { return v.toFixed(4); } },
    splitLine: { show: false } });

  var dx = p * SHIFT;
  graphics.push({ type: 'text', x: 671 + dx + p, y: 53,
    style: { text: titles[p], font: FS + 'px ' + FONT, fill: '#000', align: 'center', verticalAlign: 'middle',
      textAlign: 'center', textVerticalAlign: 'middle' } });
  graphics.push({ type: 'text', x: 148 + dx, y: 1067,
    style: { text: 'X_umap1', font: FS + 'px ' + FONT, fill: '#000', align: 'left', verticalAlign: 'middle',
      textAlign: 'left', textVerticalAlign: 'middle' } });
  graphics.push({ type: 'text', x: 50 + dx, y: 892, rotation: Math.PI / 2,
    style: { text: 'X_umap2', font: FS + 'px ' + FONT, fill: '#000', align: 'center', verticalAlign: 'middle',
      textAlign: 'center', textVerticalAlign: 'middle' } });

  visualMaps.push({ type: 'continuous', seriesIndex: p, dimension: 2 + p, min: rng[0], max: rng[1],
    inRange: { color: p === 0 ? reds : rdbuR }, calculable: false, hoverLink: false,
    left: 1259 + dx + p, top: 781, itemWidth: 26, itemHeight: 293, padding: 0, text: null });
});

var chart = echarts.init(document.getElementById('main'));
chart.setOption({
  backgroundColor: '#ffffff',
  animation: false,
  grid: grids,
  xAxis: xAxes,
  yAxis: yAxes,
  visualMap: visualMaps,
  graphic: graphics,
  series: [
    { type: 'scatter', xAxisIndex: 0, yAxisIndex: 0, data: byDim(2), symbolSize: 11, silent: true,
      encode: { x: 0, y: 1 } },
    { type: 'scatter', xAxisIndex: 3, yAxisIndex: 3, data: byDim(3), symbolSize: 11, silent: true,
      encode: { x: 0, y: 1 } }
  ]
});
</script>
</body>
</html>
